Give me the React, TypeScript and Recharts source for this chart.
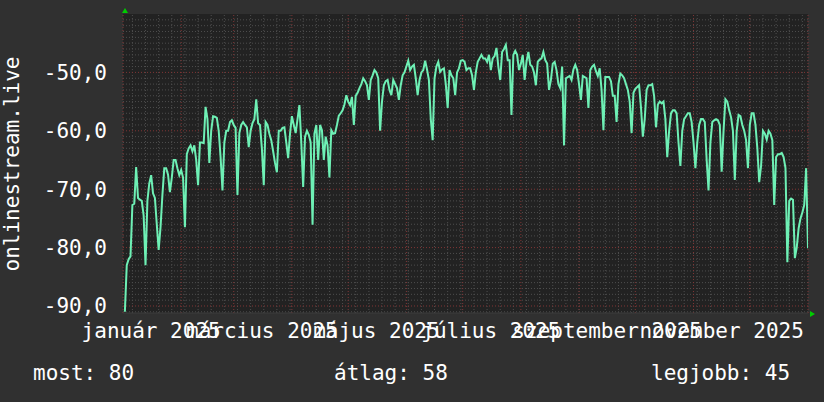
import React from 'react';
import { LineChart, Line, XAxis, YAxis, CartesianGrid, ReferenceLine } from 'recharts';

const FONT = "'DejaVu Sans Mono', monospace";

// Daily values, 2025, one array per month
const jan = [-91.0, -83.0, -82.0, -81.5, -72.7, -72.5, -66.2, -71.5, -71.8, -72.0, -74.5, -83.0, -72.0, -69.0, -67.6, -70.7, -71.5, -76.0, -80.4, -76.5, -71.0, -66.4, -66.4, -67.5, -70.5, -68.0, -65.0, -65.0, -66.4, -67.6, -66.7];
const feb = [-68.0, -76.5, -64.0, -63.0, -62.5, -63.5, -62.5, -65.0, -69.3, -62.0, -62.0, -62.1, -55.9, -58.0, -65.5, -60.0, -57.5, -57.6, -57.8, -60.0, -64.5, -70.2, -62.0, -60.0, -60.0, -58.5, -58.2, -59.0];
const mar = [-59.5, -71.0, -60.4, -59.0, -58.5, -59.0, -59.4, -62.8, -60.0, -58.7, -58.0, -54.6, -58.7, -59.0, -63.0, -69.3, -58.5, -59.0, -60.5, -61.6, -63.5, -65.5, -67.1, -60.0, -60.0, -59.5, -59.4, -62.0, -64.7, -60.5, -57.5];
const apr = [-59.0, -60.4, -58.0, -55.6, -62.0, -69.6, -61.0, -60.0, -60.7, -62.0, -76.1, -60.5, -59.0, -65.0, -59.0, -59.9, -65.0, -61.0, -62.5, -68.0, -59.9, -60.5, -60.4, -59.0, -57.4, -57.0, -56.5, -55.5, -53.9, -55.0];
const may = [-55.6, -54.2, -59.0, -54.0, -53.5, -52.7, -52.0, -51.0, -51.5, -52.2, -54.7, -51.3, -50.5, -49.6, -50.0, -51.0, -60.0, -55.0, -52.2, -51.5, -51.3, -53.0, -53.9, -51.3, -52.0, -52.7, -54.7, -52.2, -50.5, -50.0, -49.0];
const jun = [-48.0, -49.6, -49.0, -48.7, -51.0, -53.9, -51.3, -50.0, -49.6, -48.0, -49.5, -51.3, -58.0, -61.6, -51.0, -49.0, -48.2, -49.9, -49.5, -49.3, -52.0, -56.1, -49.6, -50.5, -51.0, -53.9, -50.0, -49.3, -48.0, -47.9];
const jul = [-48.2, -49.6, -49.3, -49.3, -50.5, -53.0, -50.0, -48.2, -47.6, -47.0, -47.6, -47.6, -48.2, -47.0, -49.6, -47.6, -47.2, -45.8, -49.0, -51.3, -46.5, -46.0, -45.3, -47.9, -47.9, -57.3, -47.0, -46.3, -47.0, -49.6, -48.5];
const aug = [-47.0, -51.3, -48.2, -46.5, -48.7, -49.0, -50.0, -52.2, -48.2, -47.8, -47.6, -46.5, -47.9, -48.5, -53.0, -51.3, -48.5, -48.2, -49.6, -52.0, -52.7, -49.0, -62.5, -51.0, -50.8, -50.6, -51.3, -49.5, -48.7, -49.6, -52.0];
const sep = [-54.7, -50.6, -50.8, -51.0, -56.1, -49.6, -49.0, -48.7, -49.8, -50.6, -49.3, -53.0, -59.9, -50.8, -50.8, -50.8, -51.5, -54.0, -54.0, -58.5, -52.0, -50.2, -50.5, -51.0, -52.0, -53.0, -55.0, -60.4, -53.5, -52.8];
const oct = [-52.5, -52.2, -56.0, -61.0, -58.0, -53.0, -52.2, -52.2, -52.0, -54.0, -59.4, -55.5, -55.0, -55.3, -55.0, -58.0, -64.5, -60.0, -57.0, -56.5, -56.5, -57.0, -62.0, -66.0, -60.0, -58.0, -57.5, -57.0, -57.0, -58.5, -62.0];
const nov = [-66.4, -62.0, -59.0, -58.0, -58.0, -58.5, -65.0, -70.2, -62.0, -58.5, -58.2, -58.0, -58.2, -59.0, -67.0, -60.0, -54.6, -55.0, -56.5, -57.7, -60.0, -68.4, -60.0, -57.3, -57.5, -59.0, -60.0, -61.6, -66.4, -59.0];
const dec = [-57.0, -57.0, -59.0, -63.0, -68.8, -66.0, -60.0, -60.5, -61.5, -60.0, -60.5, -61.6, -72.7, -64.5, -64.0, -64.0, -63.8, -64.5, -66.4, -82.5, -72.0, -71.6, -71.8, -81.8, -80.0, -76.7, -75.0, -74.0, -72.7, -66.4, -80.1];

const months = [jan, feb, mar, apr, may, jun, jul, aug, sep, oct, nov, dec];
const dailyValues = months.flat();
const data = dailyValues.map((v, i) => ({ day: i + 1, value: v }));

// x axis: day of year
const monthStartDays = [0, 31, 59, 90, 120, 151, 181, 212, 243, 273, 304, 334, 365];
const labelDays = [15, 74, 135, 196, 258, 319];
const labelTexts = ['január 2025', 'március 2025', 'május 2025', 'július 2025', 'szeptember 2025', 'november 2025'];
const firstMonday = 5;
const weekDays: number[] = [];
for (let d = firstMonday; d < 365; d += 7) weekDays.push(d);

// y axis
const yTicks = [-90, -80, -70, -60, -50];
const yLabels = ['-90,0', '-80,0', '-70,0', '-60,0', '-50,0'];
const majorY = [-90, -80, -70, -60, -50];
const minorY: number[] = [];
for (let v = -91; v <= -41; v++) if (v % 10 !== 0) minorY.push(v);

const axisTitle = 'onlinestream.live';
const statLabels = ['most', 'átlag', 'legjobb'];
const statValues = [80, 58, 45];

const XTick = (props: any) => {
  const { x, y, payload } = props;
  const i = labelDays.indexOf(payload.value);
  return (
    <text x={x} y={y + 25} textAnchor="middle" fill="#ffffff" fontSize={21} fontFamily={FONT}>
      {labelTexts[i]}
    </text>
  );
};

const YTick = (props: any) => {
  const { x, y, payload } = props;
  const i = yTicks.indexOf(payload.value);
  return (
    <text x={x - 16} y={y + 7.5} textAnchor="end" fill="#ffffff" fontSize={21} fontFamily={FONT}>
      {yLabels[i]}
    </text>
  );
};

const MINOR = '#4e4e4e';
const MAJOR = '#803636';

export default function App() {
  return (
    <div style={{ position: 'absolute', left: 0, top: 0, width: 824, height: 402, background: '#303030' }}>
      <LineChart width={824} height={402} data={data} margin={{ top: 14, right: 16, bottom: 59, left: 0 }}>
        <CartesianGrid fill="#222222" horizontal={false} vertical={false} />
        {weekDays.map((d) => (
          <ReferenceLine key={'w' + d} x={d} stroke={MINOR} strokeDasharray="1 2" strokeWidth={1} />
        ))}
        {minorY.map((v) => (
          <ReferenceLine key={'my' + v} y={v} stroke={MINOR} strokeDasharray="1 2" strokeWidth={1} />
        ))}
        {monthStartDays.map((d) => (
          <ReferenceLine key={'m' + d} x={d} stroke={MAJOR} strokeDasharray="1 2" strokeWidth={1} />
        ))}
        {majorY.map((v) => (
          <ReferenceLine key={'My' + v} y={v} stroke={MAJOR} strokeDasharray="1 2" strokeWidth={1} />
        ))}
        <XAxis
          dataKey="day"
          type="number"
          domain={[0, 365]}
          ticks={labelDays}
          interval={0}
          tick={<XTick />}
          tickSize={0}
          tickMargin={0}
          tickLine={false}
          axisLine={{ stroke: '#3c3c3c' }}
          height={30}
          allowDataOverflow
        />
        <YAxis
          type="number"
          domain={[-91.2, -40]}
          ticks={yTicks}
          interval={0}
          tick={<YTick />}
          tickSize={0}
          tickMargin={0}
          tickLine={false}
          axisLine={false}
          width={123}
          allowDataOverflow
        />
        <Line
          dataKey="value"
          type="linear"
          stroke="#6ef0b5"
          strokeWidth={2}
          dot={false}
          activeDot={false}
          isAnimationActive={false}
        />
      </LineChart>
      <svg width={824} height={402} style={{ position: 'absolute', left: 0, top: 0, pointerEvents: 'none' }}>
        <polygon points="122,13 128,13 125,8" fill="#00cc00" />
        <polygon points="810,311 810,317 815,314" fill="#00cc00" />
        <text x={18.5} y={164} transform="rotate(-90 18.5 164)" textAnchor="middle" fill="#ffffff" fontSize={21} fontFamily={FONT}>
          {axisTitle}
        </text>
        <text x={33} y={380} fill="#ffffff" fontSize={21} fontFamily={FONT}>{`${statLabels[0]}: ${statValues[0]}`}</text>
        <text x={334} y={380} fill="#ffffff" fontSize={21} fontFamily={FONT}>{`${statLabels[1]}: ${statValues[1]}`}</text>
        <text x={651} y={380} fill="#ffffff" fontSize={21} fontFamily={FONT}>{`${statLabels[2]}: ${statValues[2]}`}</text>
      </svg>
    </div>
  );
}
